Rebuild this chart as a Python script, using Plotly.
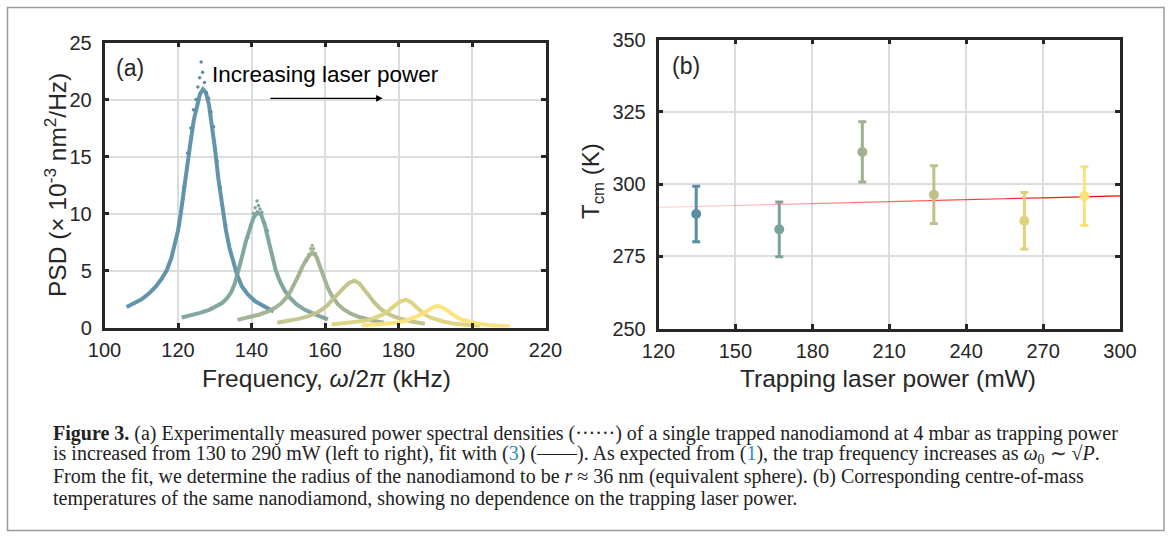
import numpy as np
import plotly.graph_objects as go

W, H = 1171, 537

# ---------------- Panel (a) data: PSD curves (x 1e-3 nm^2/Hz) ----------------
f1 = [106.0, 108.0, 110.0, 112.0, 114.0, 115.5, 116.9, 118.2, 119.2, 120.0, 120.7, 121.5, 122.3,
      123.3, 124.3, 125.3, 126.0, 126.8, 127.6, 128.4, 129.2, 130.1, 131.0, 132.0, 133.0, 134.0,
      135.0, 136.0, 137.4, 139.0, 141.0, 143.5, 146.0]
p1 = [1.8, 2.1, 2.45, 2.95, 3.6, 4.25, 5.0, 6.1, 7.3, 8.5, 9.9, 11.6, 13.5,
      16.0, 18.2, 19.8, 20.5, 20.9, 20.6, 19.6, 17.9, 15.6, 13.0, 10.6, 8.6, 7.0,
      5.7, 4.7, 3.6, 2.9, 2.3, 1.85, 1.4]

f2 = [121.0, 123.5, 126.0, 128.5, 130.5, 132.0, 133.3, 134.5, 135.5, 136.5, 137.5, 138.5, 139.5,
      140.5, 141.6, 142.6, 143.6, 144.6, 145.6, 146.6, 147.8, 149.0, 150.5, 152.2, 154.5, 156.5,
      158.5, 160.8]
p2 = [0.88, 1.05, 1.28, 1.55, 1.85, 2.15, 2.55, 3.1, 3.9, 5.0, 6.3, 7.6, 8.7,
      9.6, 10.1, 9.9, 9.0, 7.6, 6.2, 5.0, 4.0, 3.25, 2.6, 2.05, 1.55, 1.25,
      1.0, 0.72]

f3 = [136.2, 139.0, 142.0, 144.5, 146.5, 148.0, 149.3, 150.5, 151.6, 152.7, 153.8, 155.0, 156.5,
      157.7, 158.7, 159.7, 160.8, 162.0, 163.5, 165.0, 166.8, 168.8, 171.0, 173.5, 176.0]
p3 = [0.67, 0.85, 1.12, 1.42, 1.75, 2.1, 2.55, 3.1, 3.75, 4.5, 5.3, 6.0, 6.6,
      6.2, 5.3, 4.35, 3.45, 2.7, 2.05, 1.6, 1.25, 0.98, 0.76, 0.57, 0.42]

f4 = [147.0, 150.0, 153.0, 155.5, 157.5, 159.3, 160.8, 162.2, 163.6, 165.0, 166.5, 168.0, 169.4,
      170.7, 172.0, 173.4, 174.9, 176.5, 178.5, 180.8, 183.5, 187.2]
p4 = [0.42, 0.58, 0.78, 1.0, 1.25, 1.6, 2.0, 2.5, 3.0, 3.45, 3.9, 4.1, 3.85,
      3.3, 2.75, 2.2, 1.7, 1.32, 1.0, 0.74, 0.53, 0.33]

f5 = [161.8, 165.0, 168.0, 170.4, 172.8, 174.5, 176.0, 177.4, 178.8, 180.3, 182.0, 183.5, 184.8,
      186.0, 187.3, 188.8, 190.5, 192.5, 195.0, 198.6, 202.2]
p5 = [0.26, 0.35, 0.45, 0.58, 0.75, 0.93, 1.18, 1.5, 1.9, 2.25, 2.45, 2.2, 1.8,
      1.45, 1.12, 0.86, 0.66, 0.5, 0.34, 0.22, 0.14]

f6 = [170.0, 173.0, 176.5, 179.5, 181.5, 183.3, 185.0, 186.6, 188.0, 189.3, 190.6, 191.9, 193.2,
      194.5, 195.8, 197.4, 199.5, 202.0, 205.0, 208.0, 210.3]
p6 = [0.18, 0.24, 0.32, 0.42, 0.55, 0.75, 0.98, 1.25, 1.52, 1.75, 1.9, 1.76, 1.5,
      1.2, 0.92, 0.68, 0.48, 0.32, 0.2, 0.12, 0.08]

# scattered measurement points lying off the band, mostly around the peaks
sx1 = [126.3, 126.7, 125.9, 127.2, 125.4, 127.7, 124.9, 128.3, 124.2, 129.0, 123.5, 129.7,
       122.6, 130.6, 121.6, 131.5, 120.4, 133.0]
sy1 = [23.3, 22.4, 21.9, 21.5, 21.1, 20.6, 20.0, 20.1, 19.1, 18.9, 17.5, 17.6,
       15.3, 14.6, 12.3, 12.3, 9.0, 9.0]
sx2 = [141.5, 141.9, 142.3, 141.0, 142.8, 140.5, 143.5, 139.8, 144.3, 139.0]
sy2 = [11.1, 10.7, 10.4, 10.5, 10.1, 10.0, 9.2, 9.0, 8.5, 7.9]
sx3 = [156.5, 156.9, 156.1, 157.4, 155.6, 157.9, 155.0]
sy3 = [7.2, 6.9, 6.9, 6.5, 6.4, 6.0, 5.9]

curve_colors = ["#5b8fa8", "#7ba39d", "#9fb28f", "#c2c28a", "#dcd27e", "#fde27a"]

# ---------------- Panel (b) data: centre-of-mass temperature ----------------
power = [134.7, 167.1, 199.5, 227.4, 262.7, 286.1]
tcm = [289.6, 284.3, 311.1, 296.3, 287.3, 295.8]
tcm_err = [9.6, 9.5, 10.4, 10.0, 9.8, 10.2]
point_colors = ["#5b8ea6", "#7ba39b", "#a0b18f", "#c0c08b", "#ddd37f", "#fbe17a"]
fit_power = [120, 300]
fit_tcm = [291.9, 295.9]

xticks_a = [100, 120, 140, 160, 180, 200, 220]
yticks_a = [0, 5, 10, 15, 20, 25]
xticks_b = [120, 150, 180, 210, 240, 270, 300]
yticks_b = [250, 275, 300, 325, 350]

# ---------------- figure ----------------
def px2x(px):
    return px / W

def px2y(py):
    return 1 - py / H

fig = go.Figure()

curves = [(f1, p1), (f2, p2), (f3, p3), (f4, p4), (f5, p5), (f6, p6)]
for (fx, py_), c in zip(curves, curve_colors):
    fig.add_trace(go.Scatter(x=fx, y=py_, mode="lines", xaxis="x", yaxis="y",
                             line=dict(color=c, width=4),
                             opacity=0.95, showlegend=False, hoverinfo="skip"))
for sx, sy, c in [(sx1, sy1, curve_colors[0]), (sx2, sy2, curve_colors[1]), (sx3, sy3, curve_colors[2])]:
    fig.add_trace(go.Scatter(x=sx, y=sy, mode="markers", xaxis="x", yaxis="y",
                             marker=dict(color=c, size=3.5), showlegend=False, hoverinfo="skip"))

# fading red fit line in (b)
nseg = 12
xs = np.linspace(fit_power[0], fit_power[1], nseg + 1)
ys = np.linspace(fit_tcm[0], fit_tcm[1], nseg + 1)
for i in range(nseg):
    a = 0.08 + 0.92 * (i + 1) / nseg
    fig.add_trace(go.Scatter(x=[xs[i], xs[i + 1]], y=[ys[i], ys[i + 1]], mode="lines",
                             xaxis="x2", yaxis="y2",
                             line=dict(color=f"rgba(255,0,0,{a:.3f})", width=1.2),
                             showlegend=False, hoverinfo="skip"))

for xv, yv, ev, c in zip(power, tcm, tcm_err, point_colors):
    fig.add_trace(go.Scatter(x=[xv], y=[yv], mode="markers", xaxis="x2", yaxis="y2",
                             marker=dict(color=c, size=10),
                             error_y=dict(type="data", array=[ev], color=c, thickness=3, width=4),
                             showlegend=False, hoverinfo="skip"))

axis_common = dict(showline=True, linecolor="#262626", linewidth=2.5, mirror="ticks",
                   ticks="inside", ticklen=5, tickwidth=2.5, tickcolor="#262626",
                   showgrid=True, gridcolor="#dcdcdc", gridwidth=2, zeroline=False,
                   automargin=False,
                   tickfont=dict(family="Liberation Sans, Arial", size=20, color="#262626"))

fig.update_layout(
    width=W, height=H, autosize=False,
    margin=dict(l=0, r=0, t=0, b=0, pad=0, autoexpand=False),
    paper_bgcolor="white", plot_bgcolor="white",
    xaxis=dict(domain=[px2x(104.5), px2x(545.5)], range=[100, 220], tickvals=xticks_a,
               anchor="y", ticklabelstandoff=3, **axis_common),
    yaxis=dict(domain=[px2y(327.5), px2y(42.5)], range=[0, 25], tickvals=yticks_a,
               anchor="x", ticklabelstandoff=6, **axis_common),
    xaxis2=dict(domain=[px2x(658.5), px2x(1120)], range=[120, 300], tickvals=xticks_b,
                anchor="y2", ticklabelstandoff=3, **axis_common),
    yaxis2=dict(domain=[px2y(328.5), px2y(39.5)], range=[250, 350], tickvals=yticks_b,
                anchor="x2", ticklabelstandoff=6, **axis_common),
)

txt = dict(family="Liberation Sans, Arial", color="#262626")
ann = []
C = dict(xref="paper", yref="paper", showarrow=False, xanchor="center", yanchor="middle")
# axis titles
ann.append(dict(x=px2x(326), y=px2y(378), text="Frequency, <i>ω</i>/2<i>π</i> (kHz)",
                font=dict(size=24.5, **txt), **C))
ann.append(dict(x=px2x(55), y=px2y(185), textangle=-90,
                text="PSD (× 10<sup>-3</sup> nm<sup>2</sup>/Hz)", font=dict(size=24.5, **txt), **C))
ann.append(dict(x=px2x(888), y=px2y(378), text="Trapping laser power (mW)",
                font=dict(size=24.5, **txt), **C))
ann.append(dict(x=px2x(592), y=px2y(181), textangle=-90,
                text="T<sub>cm</sub> (K)", font=dict(size=24, **txt), **C))
# panel labels
ann.append(dict(x=102.7, y=22.75, xref="x", yref="y", showarrow=False, xanchor="left", yanchor="middle",
                text="(a)", font=dict(size=23, **txt)))
ann.append(dict(x=124.4, y=340.75, xref="x2", yref="y2", showarrow=False, xanchor="left", yanchor="middle",
                text="(b)", font=dict(size=23, **txt)))
ann.append(dict(x=128.8, y=22.2, xref="x", yref="y", showarrow=False, xanchor="left", yanchor="middle",
                text="Increasing laser power", font=dict(size=22.5, family="Liberation Sans, Arial", color="black")))
ann.append(dict(x=175.7, y=20.1, ax=144.7, ay=20.1, xref="x", yref="y", axref="x", ayref="y",
                showarrow=True, arrowhead=2, arrowsize=1.2, arrowwidth=1.1, arrowcolor="black", text=""))

# caption
cap_font = dict(family="Liberation Serif, Times New Roman", size=20, color="#222222")
blue = "#2b8cc4"
lines = [
    "<b>Figure 3.</b> (a) Experimentally measured power spectral densities (······) of a single trapped nanodiamond at 4 mbar as trapping power",
    f"is increased from 130 to 290 mW (left to right), fit with (<span style='color:{blue}'>3</span>) (——). As expected from (<span style='color:{blue}'>1</span>), the trap frequency increases as <i>ω</i><sub>0</sub> ∼ √<i>P</i>.",
    "From the fit, we determine the radius of the nanodiamond to be <i>r</i> ≈ 36 nm (equivalent sphere). (b) Corresponding centre-of-mass",
    "temperatures of the same nanodiamond, showing no dependence on the trapping laser power.",
]
for i, l in enumerate(lines):
    ann.append(dict(x=px2x(51), y=px2y(433 + 21.7 * i), xref="paper", yref="paper", showarrow=False,
                    xanchor="left", yanchor="middle", text=l, font=cap_font))

fig.update_layout(annotations=ann)

fig.add_shape(type="rect", xref="paper", yref="paper",
              x0=px2x(7.5), x1=px2x(1164), y0=px2y(530.5), y1=px2y(7.5),
              line=dict(color="#9a9a9a", width=1.5))

fig.write_html("out.html", config={"displayModeBar": False},
               post_script="document.body.style.margin='0px';")
